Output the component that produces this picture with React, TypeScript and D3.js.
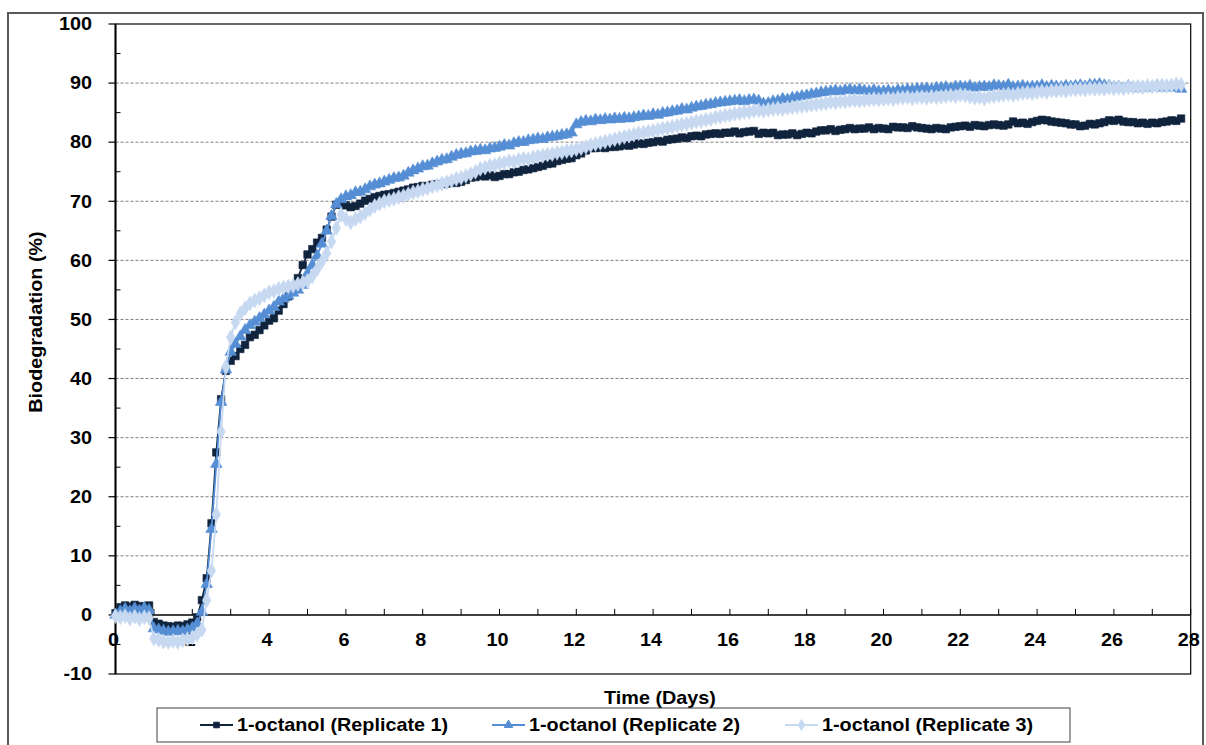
import React from 'react';
import * as d3 from 'd3';

// sampling interval of the readings, in days
const STEP = 0.125;

// Replicate 1 (8 readings per day, day 0 .. 27.75)
const rep1 = [
  0.3, 1.3, 1.6, 1.4, 1.7, 1.5, 1.3, 1.6,
  -1.2, -1.5, -1.8, -1.9, -2.0, -1.8, -1.9, -1.6,
  -1.3, -0.4, 2.5, 6.2, 15.5, 27.5, 36.5, 41.3,
  43.0, 43.8, 45.0, 45.7, 47.0, 47.4, 48.2, 49.0,
  49.8, 50.2, 51.5, 52.6, 53.9, 55.4, 57.0, 59.2,
  61.0, 61.9, 63.0, 63.8, 65.2, 67.4, 69.4, 69.8,
  69.3, 69.0, 69.2, 69.6, 70.1, 70.4, 70.7, 70.9,
  71.1, 71.2, 71.4, 71.6, 71.8, 72.0, 72.3, 72.4,
  72.6, 72.5, 72.8, 72.9, 72.9, 73.0, 73.3, 73.1,
  73.3, 73.6, 74.0, 74.1, 74.3, 74.2, 74.4, 74.1,
  74.3, 74.6, 74.6, 74.9, 75.0, 75.3, 75.4, 75.6,
  75.8, 76.0, 76.3, 76.4, 76.8, 77.0, 77.2, 77.3,
  77.8, 78.1, 78.6, 79.0, 79.0, 79.1, 79.0, 79.2,
  79.2, 79.3, 79.5, 79.4, 79.6, 79.8, 79.7, 79.9,
  80.0, 80.2, 80.1, 80.4, 80.5, 80.6, 80.8, 80.7,
  81.0, 81.1, 81.0, 81.3, 81.4, 81.5, 81.4, 81.6,
  81.6, 81.8, 81.5, 81.7, 81.8, 81.9, 81.4, 81.6,
  81.5, 81.6, 81.2, 81.3, 81.3, 81.5, 81.2, 81.4,
  81.6, 81.5, 81.8, 82.0, 82.0, 82.2, 81.9, 82.1,
  82.2, 82.4, 82.2, 82.3, 82.3, 82.5, 82.2, 82.4,
  82.3, 82.2, 82.6, 82.5, 82.5, 82.4, 82.7, 82.5,
  82.4, 82.3, 82.2, 82.4, 82.3, 82.2, 82.5, 82.6,
  82.7, 82.8, 82.6, 82.9, 82.8, 82.7, 82.9, 83.0,
  82.9, 82.8, 83.0, 83.5, 83.2, 83.3, 83.1, 83.4,
  83.6, 83.8, 83.7, 83.5, 83.4, 83.3, 83.2, 83.0,
  83.0, 82.7, 82.8, 83.1, 83.0, 83.2, 83.4, 83.7,
  83.6, 83.8, 83.5, 83.4, 83.4, 83.2, 83.3, 83.1,
  83.3, 83.2, 83.4, 83.5, 83.7, 83.6, 84.0,
];

// Replicate 2
const rep2 = [
  0.0, 0.6, 1.0, 0.6, 1.1, 0.7, 1.2, 0.8,
  -2.3, -2.5, -2.7, -2.9, -2.8, -2.7, -2.8, -2.5,
  -2.2, -1.5, 0.5, 5.2, 14.5, 25.5, 36.0, 41.5,
  44.5, 45.8, 47.1, 48.2, 49.0, 49.6, 50.2, 50.8,
  51.5, 52.1, 53.0, 53.5, 54.0, 54.5, 55.0, 55.8,
  57.8, 59.2, 60.8, 62.8, 65.0, 67.5, 69.5, 70.3,
  70.8, 71.0, 71.5, 71.6, 72.0, 72.5, 72.8, 73.0,
  73.3, 73.6, 73.9, 74.0, 74.3, 74.8, 75.2, 75.5,
  75.9, 76.0, 76.4, 76.7, 77.0, 77.1, 77.5, 77.8,
  78.0, 78.1, 78.4, 78.5, 78.7, 78.6, 78.9, 79.0,
  79.2, 79.5, 79.4, 79.8, 80.0, 80.0, 80.3, 80.4,
  80.6, 80.5, 80.8, 80.9, 81.0, 81.2, 81.3, 81.6,
  83.0, 83.4, 83.6, 83.5, 83.8, 83.7, 83.9, 83.8,
  84.0, 83.9, 84.1, 84.0, 84.2, 84.3, 84.5, 84.4,
  84.7, 84.6, 84.9, 85.0, 85.2, 85.3, 85.6, 85.5,
  85.8, 86.0, 86.1, 86.3, 86.4, 86.6, 86.7, 86.8,
  86.9, 87.0, 87.1, 86.9, 87.1, 87.2, 87.0, 86.5,
  86.6, 86.9, 87.0, 87.3, 87.2, 87.5, 87.6, 87.8,
  87.9, 88.1, 88.2, 88.4, 88.5, 88.6, 88.7, 88.6,
  88.8, 88.9, 88.7, 88.9, 88.7, 88.6, 88.8, 88.6,
  88.6, 88.7, 88.5, 88.8, 88.7, 88.9, 88.8, 89.0,
  89.0, 89.1, 88.9, 89.2, 89.2, 89.3, 89.1, 89.4,
  89.4, 89.3, 89.5, 89.2, 89.3, 89.4, 89.3, 89.6,
  89.5, 89.4, 89.7, 89.3, 89.4, 89.5, 89.3, 89.4,
  89.4, 89.6, 89.3, 89.5, 89.4, 89.3, 89.5, 89.4,
  89.5, 89.6, 89.4, 89.7, 89.7, 89.8, 89.6, 89.5,
  89.3, 89.4, 89.2, 89.5, 89.2, 89.1, 89.3, 89.2,
  89.3, 89.6, 89.2, 89.4, 89.2, 89.5, 89.0,
];

// Replicate 3
const rep3 = [
  -0.2, -0.4, -0.2, -0.6, -0.3, -0.7, -0.4, -0.5,
  -4.0, -4.2, -4.5, -4.6, -4.4, -4.6, -4.3, -4.1,
  -3.8, -3.3, -2.5, 2.5, 7.5, 17.0, 31.0, 42.0,
  47.0, 49.5, 51.0, 51.9, 52.7, 53.2, 53.6, 54.1,
  54.6, 54.8, 55.2, 55.4, 55.6, 55.7, 56.0, 56.2,
  56.5, 57.3, 58.5, 59.8, 61.2, 63.2, 65.5, 67.7,
  67.0, 66.4, 67.0, 67.4, 68.0, 68.6, 69.2, 69.6,
  70.0, 70.2, 70.4, 70.7, 70.9, 71.2, 71.5, 71.7,
  72.0, 72.2, 72.5, 72.7, 73.0, 73.2, 73.5, 73.8,
  74.0, 74.3, 74.6, 75.0, 75.5, 75.7, 76.0, 76.1,
  76.4, 76.5, 76.8, 76.7, 77.0, 77.2, 77.1, 77.4,
  77.6, 77.7, 77.9, 78.0, 78.2, 78.3, 78.5, 78.6,
  78.8, 79.0, 79.2, 79.5, 79.7, 79.9, 80.1, 80.3,
  80.5, 80.7, 80.9, 81.1, 81.3, 81.5, 81.6, 81.8,
  81.9, 82.1, 82.3, 82.4, 82.6, 82.8, 83.0, 83.1,
  83.3, 83.5, 83.6, 83.8, 83.9, 84.2, 84.3, 84.5,
  84.6, 84.8, 84.9, 85.1, 85.1, 85.3, 85.4, 85.3,
  85.5, 85.6, 85.7, 85.6, 85.8, 85.9, 86.0, 86.1,
  86.2, 86.3, 86.4, 86.5, 86.6, 86.8, 86.7, 86.9,
  86.9, 87.0, 87.1, 87.0, 87.1, 87.2, 87.3, 87.2,
  87.3, 87.4, 87.3, 87.5, 87.5, 87.6, 87.4, 87.6,
  87.6, 87.5, 87.7, 87.6, 87.7, 87.8, 87.9, 87.8,
  88.0, 87.9, 87.7, 87.5, 87.6, 87.4, 87.7, 87.8,
  87.9, 88.0, 88.1, 88.0, 88.2, 88.3, 88.4, 88.3,
  88.5, 88.6, 88.5, 88.7, 88.7, 88.8, 88.7, 88.9,
  88.9, 89.0, 88.9, 89.1, 89.0, 89.1, 89.0, 89.2,
  89.1, 89.2, 89.1, 89.3, 89.3, 89.4, 89.3, 89.5,
  89.4, 89.5, 89.6, 89.5, 89.6, 89.8, 89.7,
];

const seriesNames = ['1-octanol (Replicate 1)', '1-octanol (Replicate 2)', '1-octanol (Replicate 3)'];
const seriesColors = ['#10243E', '#558ED5', '#C6D9F1'];
const yTicks = [-10, 0, 10, 20, 30, 40, 50, 60, 70, 80, 90, 100];
const xTicks = [0, 2, 4, 6, 8, 10, 12, 14, 16, 18, 20, 22, 24, 26, 28];

const FONT = "'Liberation Sans', Arial, sans-serif";
const plot = { left: 115.5, right: 1190.7, top: 24, bottom: 674 };

const symbols = [d3.symbolSquare, d3.symbolTriangle, d3.symbolDiamond];
const symbolSizes = [56, 58, 64];

const Label = ({ x, y, anchor = 'middle', children, size = 18, sx = 1.1, rotate = 0 }: any) => (
  <text
    transform={`translate(${x},${y}) rotate(${rotate}) scale(${sx},1)`}
    textAnchor={anchor}
    dy="0.35em"
    fontSize={size}
    fontWeight="bold"
    fontFamily={FONT}
    fill="#000"
  >
    {children}
  </text>
);

export default function App() {
  const x = d3.scaleLinear().domain([0, 28]).range([plot.left, plot.right]);
  const y = d3.scaleLinear().domain([-10, 100]).range([plot.bottom, plot.top]);

  const series = [rep1, rep2, rep3].map((vals) => vals.map((v, i) => ({ t: i * STEP, v })));
  const line = d3
    .line<{ t: number; v: number }>()
    .x((d) => x(d.t))
    .y((d) => y(d.v));

  const gridVals = yTicks.filter((v) => v > 0 && v < 100);
  const minorY = d3.range(-5, 100, 10);
  const dayTicks = d3.range(1, 29);

  const legendX = [200, 492, 785];

  return (
    <svg width={1206} height={745} style={{ position: 'absolute', left: 0, top: 0, background: '#fff' }}>
      {/* chart frame */}
      <rect x={8} y={13} width={1195} height={800} fill="#fff" stroke="#595959" strokeWidth={2} />

      {/* gridlines */}
      {gridVals.map((v) => (
        <line key={v} x1={plot.left} x2={plot.right} y1={y(v)} y2={y(v)} stroke="#7f7f7f" strokeDasharray="3,2" strokeWidth={1} />
      ))}

      {/* plot area box */}
      <rect x={plot.left} y={plot.top} width={plot.right - plot.left} height={plot.bottom - plot.top} fill="none" stroke="#000" strokeWidth={1.2} />
      <line x1={plot.left} x2={plot.left} y1={plot.top} y2={plot.bottom} stroke="#000" strokeWidth={2} />

      {/* y axis ticks */}
      {yTicks.map((v) => (
        <g key={v}>
          <line x1={plot.left - 7} x2={plot.left} y1={y(v)} y2={y(v)} stroke="#000" strokeWidth={1.2} />
          <Label x={92} y={y(v)} anchor="end">{v}</Label>
        </g>
      ))}
      {minorY.map((v) => (
        <line key={v} x1={plot.left} x2={plot.left + 5} y1={y(v)} y2={y(v)} stroke="#000" strokeWidth={1} />
      ))}

      {/* x axis at 0 */}
      <line x1={plot.left} x2={plot.right} y1={y(0)} y2={y(0)} stroke="#000" strokeWidth={1.5} />
      {dayTicks.map((d) => (
        <line key={d} x1={x(d)} x2={x(d)} y1={y(0)} y2={y(0) - 6} stroke="#000" strokeWidth={1} />
      ))}
      {xTicks.map((d) => (
        <Label key={d} x={x(d) - 2} y={640}>{d}</Label>
      ))}

      {/* series */}
      {series.map((pts, si) => {
        const sym = d3.symbol(symbols[si], symbolSizes[si])();
        return (
          <g key={si}>
            <path d={line(pts) || ''} fill="none" stroke={seriesColors[si]} strokeWidth={1.8} />
            {pts.map((p, i) => (
              <path key={i} d={sym || ''} transform={`translate(${x(p.t)},${y(p.v)})`} fill={seriesColors[si]} stroke={seriesColors[si]} strokeWidth={0.6} />
            ))}
          </g>
        );
      })}

      {/* axis titles */}
      <Label x={36} y={322} rotate={-90}>Biodegradation (%)</Label>
      <Label x={660} y={698}>Time (Days)</Label>

      {/* legend */}
      <rect x={157} y={708} width={913} height={34} fill="#fff" stroke="#404040" strokeWidth={1} />
      {seriesNames.map((name, i) => {
        const sym = d3.symbol(symbols[i], symbolSizes[i] * 0.55)();
        const lx = legendX[i];
        return (
          <g key={name}>
            <line x1={lx} x2={lx + 33} y1={725} y2={725} stroke={seriesColors[i]} strokeWidth={2} />
            <path d={sym || ''} transform={`translate(${lx + 16.5},725)`} fill={seriesColors[i]} stroke={seriesColors[i]} />
            <Label x={lx + 37} y={725} anchor="start">{name}</Label>
          </g>
        );
      })}
    </svg>
  );
}
